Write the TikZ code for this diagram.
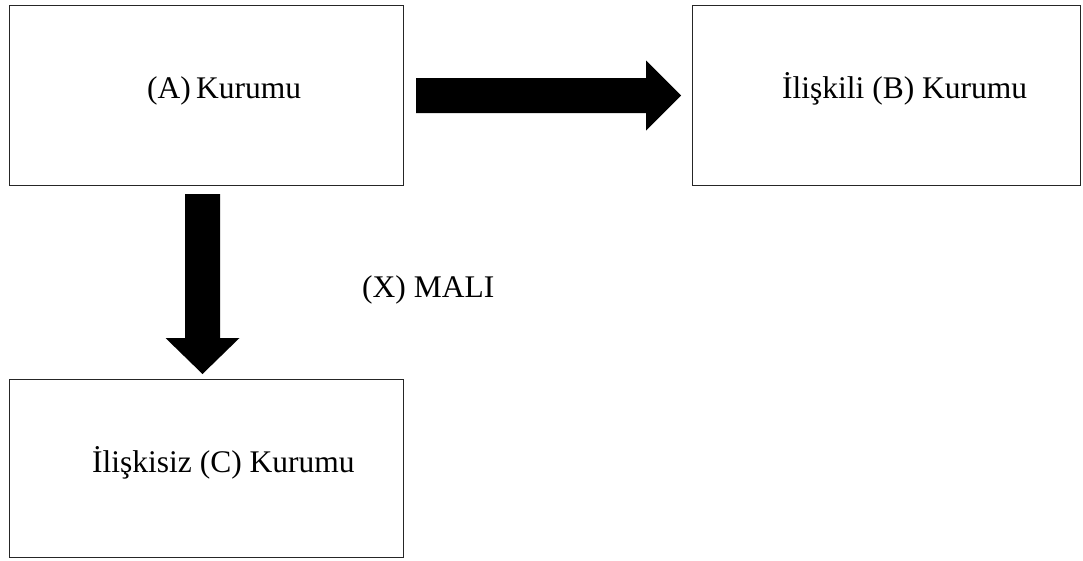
\documentclass[tikz,border=0pt]{standalone}
\usepackage{fontspec}
\setmainfont{Liberation Serif}
\usetikzlibrary{calc}
\begin{document}
\begin{tikzpicture}[x=1pt,y=-1pt,
  org/.style={draw=black!85,line width=1pt,fill=white,inner sep=0pt,anchor=north west},
  label/.style={inner sep=0pt,anchor=base west,font=\fontsize{31.5}{38}\selectfont},
  blockarrow/.style={fill=black}]
\useasboundingbox (0,0) rectangle (1083,560);
% institution boxes
\node[org,minimum width=394pt,minimum height=180pt] (A) at (9,5) {};
\node[org,minimum width=388pt,minimum height=180pt] (B) at (692,5) {};
\node[org,minimum width=394pt,minimum height=178pt] (C) at (9,379) {};
% labels
\node[label] (ta) at (147,98) {(A)\,Kurumu};
\node[label] (tb) at (782,98) {İlişkili (B) Kurumu};
\node[label] (tc) at (92,472) {İlişkisiz (C) Kurumu};
\node[label] (tx) at (362,297) {(X) MALI};
% block arrow from A to B
\coordinate (ab0) at ($(A.east)+(12,0)$);
\coordinate (ab1) at ($(B.west)+(-11,0)$);
\fill[blockarrow] ($(ab0)+(0,-17.5)$) -- ($(ab1)+(-35,-17.5)$) -- ($(ab1)+(-35,-35)$)
  -- (ab1) -- ($(ab1)+(-35,35)$) -- ($(ab1)+(-35,17.5)$) -- ($(ab0)+(0,17.5)$) -- cycle;
% block arrow from A to C
\coordinate (ac0) at ($(A.south)+(-4,8)$);
\coordinate (ac1) at ($(C.north)+(-4,-5)$);
\fill[blockarrow] ($(ac0)+(-17.5,0)$) -- ($(ac0)+(17.5,0)$) -- ($(ac1)+(17.5,-36)$)
  -- ($(ac1)+(37,-36)$) -- (ac1) -- ($(ac1)+(-37,-36)$) -- ($(ac1)+(-17.5,-36)$) -- cycle;
\end{tikzpicture}
\end{document}
